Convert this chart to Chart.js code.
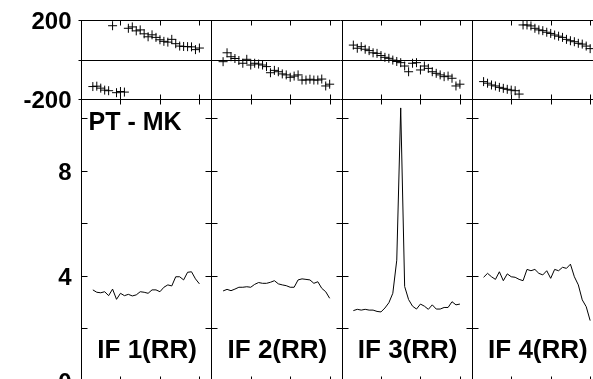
<!DOCTYPE html>
<html>
<head>
<meta charset="utf-8">
<script src="https://cdn.jsdelivr.net/npm/chart.js@4/dist/chart.umd.min.js"></script>
<style>
  html, body { margin: 0; padding: 0; background: #fff; overflow: hidden; }
  #wrap { position: relative; width: 620px; height: 400px; }
</style>
</head>
<body>
<div id="wrap"><canvas id="plot" width="620" height="400"></canvas></div>
<script>
// channels shown in every IF panel
const channels = [3, 4, 5, 6, 7, 8, 9, 10, 11, 12, 13, 14, 15, 16, 17, 18, 19, 20, 21, 22, 23, 24, 25, 26, 27, 28, 29, 30];

const ifLabels = ["IF 1(RR)", "IF 2(RR)", "IF 3(RR)", "IF 4(RR)"];
const baselineLabel = "PT - MK";

const xTicks = [10, 20, 30];
const phaseTickLabels = [200, -200];
const ampTickMarks = [2, 4, 6, 8, 10];
const ampTickLabels = [8, 4, 0];

// phase (degrees)
const phaseIF1 = [-137, -135, -145, -155, -158, 171, -168, -162, -165, 158, 165, 145, 150, 130, 115, 125, 112, 100, 92, 88, 102, 80, 68, 66, 65, 64, 50, 58];
const phaseIF2 = [-11, 34, 14, 5, -5, -19, 1, -28, -19, -23, -28, -36, -67, -55, -62, -73, -78, -90, -84, -78, -104, -104, -100, -104, -104, -99, -134, -125];
const phaseIF3 = [73, 57, 65, 52, 45, 34, 31, 20, 11, 6, -3, -10, -16, -33, -62, -19, -16, -53, -33, -45, -62, -70, -78, -87, -84, -95, -134, -125];
const phaseIF4 = [-112, -120, -129, -134, -141, -146, -151, -155, -158, -175, 175, 175, 170, 158, 150, 146, 138, 132, 124, 118, 112, 102, 95, 90, 82, 78, 68, 55];

// amplitude
const ampIF1 = [3.47, 3.38, 3.36, 3.40, 3.25, 3.50, 3.11, 3.34, 3.25, 3.30, 3.24, 3.28, 3.40, 3.38, 3.34, 3.47, 3.47, 3.40, 3.57, 3.66, 3.62, 3.97, 3.97, 3.85, 4.14, 4.16, 3.89, 3.70];
const ampIF2 = [3.43, 3.49, 3.44, 3.50, 3.57, 3.57, 3.59, 3.57, 3.68, 3.75, 3.72, 3.72, 3.76, 3.82, 3.70, 3.66, 3.63, 3.57, 3.57, 3.85, 3.89, 3.87, 3.85, 3.72, 3.78, 3.53, 3.40, 3.15];
const ampIF3 = [2.68, 2.73, 2.70, 2.73, 2.70, 2.70, 2.65, 2.63, 2.78, 2.98, 3.34, 4.6, 10.4, 3.6, 3.1, 2.85, 2.74, 2.93, 2.85, 2.73, 2.90, 2.74, 2.74, 2.80, 2.80, 3.02, 2.90, 2.93];
const ampIF4 = [3.95, 4.10, 3.97, 3.87, 4.16, 3.82, 4.08, 3.97, 3.95, 3.87, 3.82, 4.25, 4.20, 4.25, 4.10, 4.04, 4.20, 3.91, 4.25, 4.20, 4.33, 4.29, 4.45, 3.97, 3.66, 3.09, 2.83, 2.3];

const phases = [phaseIF1, phaseIF2, phaseIF3, phaseIF4];
const amps = [ampIF1, ampIF2, ampIF3, ampIF4];

const font = '"Liberation Sans", Arial, Helvetica, sans-serif';
const toPoints = (vals) => vals.map((v, i) => ({ x: channels[i], y: v }));

const datasets = [];
phases.forEach((p, i) => {
  datasets.push({
    data: toPoints(p),
    xAxisID: "x" + (i + 1),
    yAxisID: "yp",
    showLine: false,
    pointStyle: "cross",
    pointRadius: 4.5,
    borderColor: "#000",
    borderWidth: 1,
  });
});
amps.forEach((a, i) => {
  datasets.push({
    data: toPoints(a),
    xAxisID: "x" + (i + 1),
    yAxisID: "ya",
    showLine: true,
    pointRadius: 0,
    borderColor: "#000",
    borderWidth: 1,
    tension: 0,
  });
});

const xScale = (n) => ({
  type: "linear", position: "bottom", stack: "h", stackWeight: 1, weight: n,
  min: 0, max: 33, display: false,
});

// frame, tick marks and labels, all placed from the scales
const framePlugin = {
  id: "frame",
  afterDatasetsDraw(chart) {
    const ctx = chart.ctx;
    const yp = chart.scales.yp;
    const ya = chart.scales.ya;
    const xs = [1, 2, 3, 4].map((n) => chart.scales["x" + n]);
    const snap = (v) => Math.round(v) + 0.5;
    const left = snap(xs[0].left), right = snap(xs[3].right);
    const top = snap(yp.top), mid = snap(yp.bottom), bottom = snap(ya.bottom);
    const zero = snap(yp.getPixelForValue(0));

    ctx.save();
    ctx.strokeStyle = "#000";
    ctx.lineWidth = 1;
    ctx.beginPath();
    [top, mid, bottom, zero].forEach((y) => { ctx.moveTo(left - 3, y); ctx.lineTo(right, y); });
    const bounds = [xs[0].left].concat(xs.map((s) => s.right));
    bounds.forEach((b) => { const x = snap(b); ctx.moveTo(x, top); ctx.lineTo(x, bottom); });

    // x ticks on every horizontal edge
    xs.forEach((s) => {
      xTicks.forEach((v) => {
        const x = snap(s.getPixelForValue(v));
        ctx.moveTo(x, top); ctx.lineTo(x, top + 5);
        ctx.moveTo(x, mid); ctx.lineTo(x, mid - 5);
        ctx.moveTo(x, mid); ctx.lineTo(x, mid + 5);
        ctx.moveTo(x, bottom); ctx.lineTo(x, bottom - 5);
      });
    });
    // amplitude ticks on every vertical edge
    ampTickMarks.forEach((v) => {
      const y = snap(ya.getPixelForValue(v));
      bounds.forEach((b, i) => {
        const x = snap(b);
        ctx.moveTo(i === 0 ? x : x - 6, y); ctx.lineTo(x + 6, y);
      });
    });
    ctx.stroke();

    ctx.fillStyle = "#000";
    ctx.font = "bold 24px " + font;
    ctx.textAlign = "right";
    ctx.textBaseline = "middle";
    phaseTickLabels.forEach((v) => ctx.fillText(String(v), left - 10, yp.getPixelForValue(v) + 2));
    ampTickLabels.forEach((v) => ctx.fillText(String(v), left - 10, ya.getPixelForValue(v) + 2.5));

    ctx.font = "bold 25px " + font;
    ctx.textAlign = "left";
    ctx.textBaseline = "alphabetic";
    ctx.fillText(baselineLabel, left + 7, mid + 30);

    ctx.font = "bold 26px " + font;
    ctx.textAlign = "center";
    xs.forEach((s, i) => ctx.fillText(ifLabels[i], (s.left + s.right) / 2 + 1, 358));
    ctx.restore();
  },
};

new Chart(document.getElementById("plot"), {
  type: "scatter",
  data: { datasets },
  options: {
    responsive: false,
    animation: false,
    events: [],
    layout: { padding: { left: 81, top: 20, right: 18, bottom: 19 } },
    scales: {
      x1: xScale(1),
      x2: xScale(2),
      x3: xScale(3),
      x4: xScale(4),
      yp: { type: "linear", position: "left", stack: "v", stackWeight: 79, weight: 2, min: -200, max: 200, display: false },
      ya: { type: "linear", position: "left", stack: "v", stackWeight: 282, weight: 1, min: 0, max: 10.74, display: false },
    },
    plugins: {
      legend: { display: false },
      tooltip: { enabled: false },
    },
  },
  plugins: [framePlugin],
});
</script>
</body>
</html>
